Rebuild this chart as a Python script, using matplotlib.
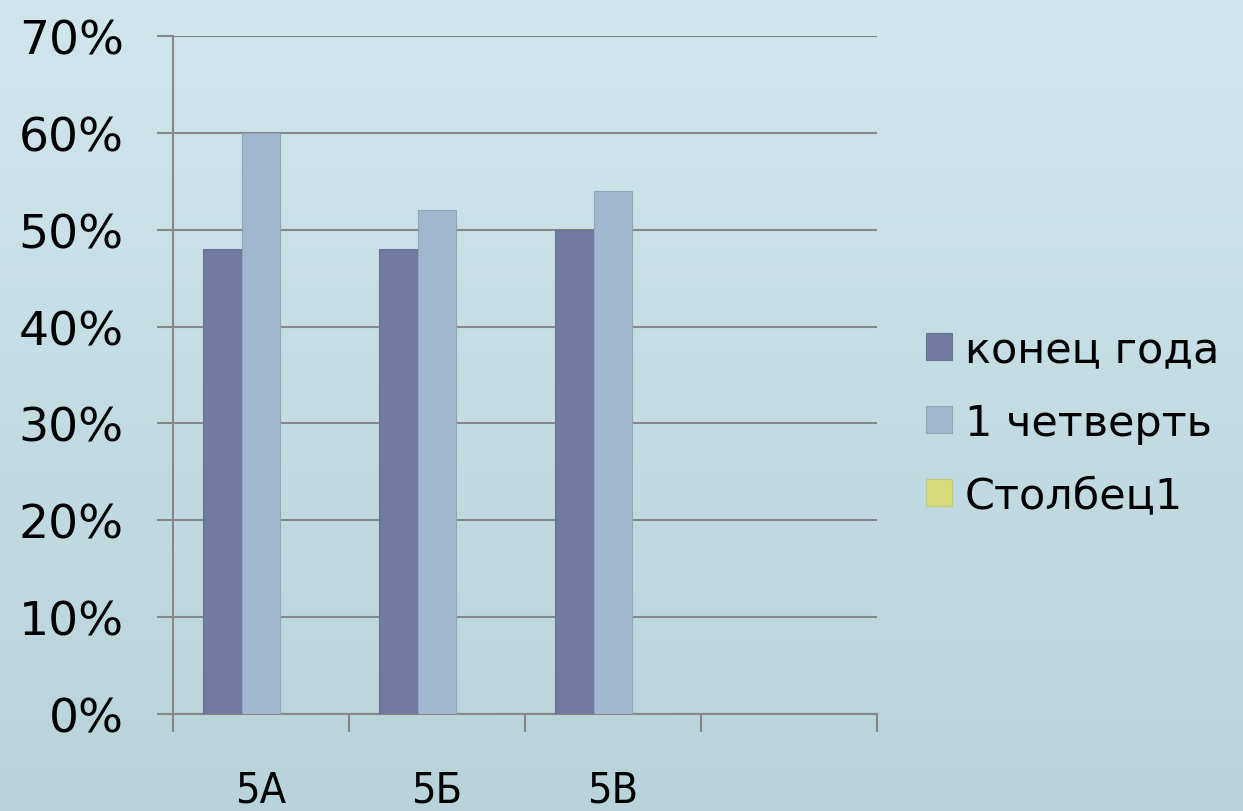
import matplotlib.pyplot as plt
import numpy as np

# ── data ─────────────────────────────────────────────────────────────────────
categories = ["5А", "5Б", "5В", ""]
series_names = ["конец года", "1 четверть", "Столбец1"]
end_of_year = [0.48, 0.48, 0.50, np.nan]
quarter_1 = [0.60, 0.52, 0.54, np.nan]
column_1 = [0.0, 0.0, 0.0, np.nan]

colors = ["#717a9f", "#a1b7cd", "#d5db7d"]
edges = ["#6a7396", "#8fa5bb", "#c5cb70"]

plt.rcParams["font.family"] = ["DejaVu Sans"]

fig = plt.figure(figsize=(12.43, 8.12), dpi=100)

# ── gradient background ─────────────────────────────────────────────────────
bg = fig.add_axes([0, 0, 1, 1], zorder=-10)
grad = np.linspace(0, 1, 256)[:, None]
top = np.array([0.812, 0.902, 0.925])
bot = np.array([0.722, 0.827, 0.855])
img = top + (bot - top) * grad[:, :, None]
bg.imshow(img, aspect="auto", extent=[0, 1, 0, 1], origin="upper")
bg.axis("off")

ax = fig.add_axes([173 / 1243, 1 - 715 / 812, 704 / 1243, 678 / 812])
ax.patch.set_alpha(0)

# ── bars ─────────────────────────────────────────────────────────────────────
w = 0.219
x = np.arange(len(categories)) + 0.5
for i, (vals, name) in enumerate(zip([end_of_year, quarter_1, column_1], series_names)):
    ax.bar(x + (i - 1) * w, vals, width=w, color=colors[i], edgecolor=edges[i],
           linewidth=0.8, label=name, zorder=3)

ax.set_xlim(0, 4)
ax.set_ylim(0, 0.70)

# ── axes styling ────────────────────────────────────────────────────────────
grid_c = "#878787"
ax.set_yticks(np.arange(0, 0.71, 0.1))
ax.set_yticklabels([f"{int(round(v * 100))}%" for v in np.arange(0, 0.71, 0.1)])
ax.yaxis.grid(True, color=grid_c, linewidth=1.5, zorder=1)
ax.tick_params(axis="y", length=11.5, width=1.5, color=grid_c, pad=24,
               labelsize=34, labelcolor="black")

ax.set_xticks(np.arange(0, 5))
ax.set_xticklabels([])
ax.tick_params(axis="x", which="major", length=13, width=1.5, color=grid_c)
ax.set_xticks(x, minor=True)
ax.set_xticklabels(categories, minor=True, fontsize=31, fontstretch="condensed")
ax.tick_params(axis="x", which="minor", length=0, pad=39)

for s in ["top", "right"]:
    ax.spines[s].set_visible(False)
for s in ["left", "bottom"]:
    ax.spines[s].set_color(grid_c)
    ax.spines[s].set_linewidth(1.5)

# ── legend ──────────────────────────────────────────────────────────────────
leg = fig.legend(loc="center left", bbox_to_anchor=(0.714, 0.478), frameon=False,
                 fontsize=31, handlelength=0.6, handleheight=0.6,
                 handletextpad=0.3, labelspacing=0.72)

fig.savefig("out.png", dpi=100)
